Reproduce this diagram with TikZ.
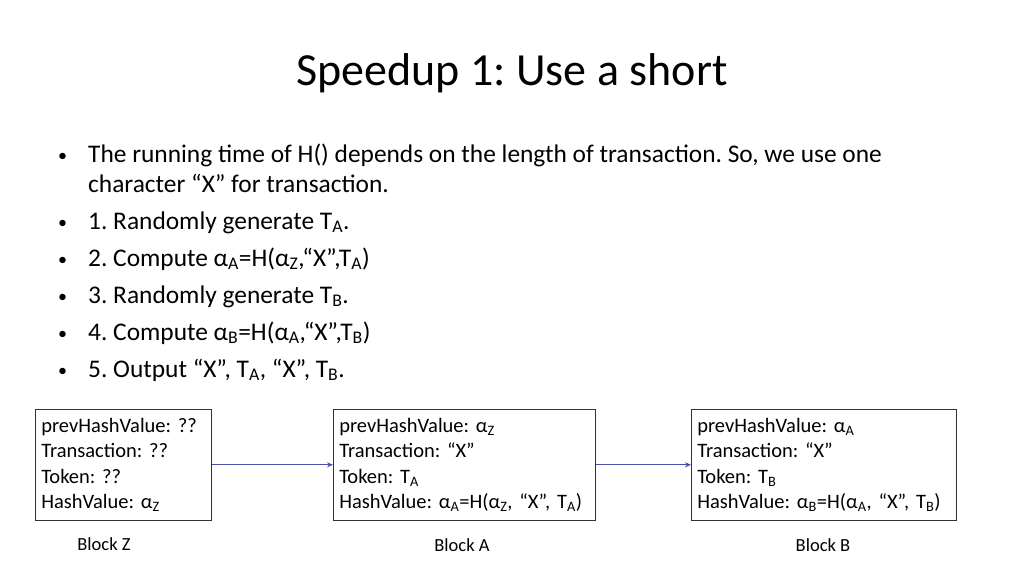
\documentclass[tikz,border=0pt]{standalone}
\usepackage{fontspec}
\setmainfont{Carlito}
\usetikzlibrary{arrows.meta}
\tikzset{
 blk/.style={draw=black!80,line width=0.6pt,anchor=north west,inner xsep=6pt,inner ysep=0pt,align=left,font=\fontsize{20.5}{25.5}\selectfont,minimum height=111pt},
 bul/.style={anchor=base west,font=\fontsize{25.4}{25}\selectfont,inner sep=0pt},
 lbl/.style={font=\fontsize{18.5}{20}\selectfont},
 conn/.style={-{Stealth[length=6pt,width=5pt]},draw=blue!55!black!70!white,line width=0.8pt}
}
\newcommand{\sub}[1]{\textsubscript{#1}}
\begin{document}
\frenchspacing
\begin{tikzpicture}[x=1pt,y=-1pt]
\useasboundingbox (0,0) rectangle (1024,576);
\node[font=\fontsize{46}{52}\selectfont] (title) at (512,73) {Speedup 1: Use a short};
\foreach \y in {162,229,266,303,340,377}{\node[bul,font=\fontsize{18}{20}\selectfont] at (58,\y-1) {•};}
\node[bul] (l1) at (88,162) {The running time of H() depends on the length of transaction. So, we use one};
\node[bul] (l1b) at (88,192) {character “X” for transaction.};
\node[bul] (l2) at (88,229) {1. Randomly generate T\sub{A}.};
\node[bul] (l3) at (88,266) {2. Compute α\sub{A}=H(α\sub{Z},“X”,T\sub{A})};
\node[bul] (l4) at (88,303) {3. Randomly generate T\sub{B}.};
\node[bul] (l5) at (88,340) {4. Compute α\sub{B}=H(α\sub{A},“X”,T\sub{B})};
\node[bul] (l6) at (88,377) {5. Output “X”, T\sub{A}, “X”, T\sub{B}.};
\node[blk,minimum width=176pt,text width=164pt] (bz) at (35,409) {prevHashValue: ??\\Transaction: ??\\Token: ??\\HashValue: α\sub{Z}};
\node[blk,minimum width=262pt,text width=250pt] (ba) at (333,409) {prevHashValue: α\sub{Z}\\Transaction: “X”\\Token: T\sub{A}\\HashValue: α\sub{A}=H(α\sub{Z}, “X”, T\sub{A})};
\node[blk,minimum width=265pt,text width=253pt] (bb) at (691,409) {prevHashValue: α\sub{A}\\Transaction: “X”\\Token: T\sub{B}\\HashValue: α\sub{B}=H(α\sub{A}, “X”, T\sub{B})};
\draw[conn] (bz.east) -- (ba.west);
\draw[conn] (ba.east) -- (bb.west);
\node[lbl] (lz) at (104,544) {Block Z};
\node[lbl] (la) at (462,545) {Block A};
\node[lbl] (lb) at (823,545) {Block B};
\end{tikzpicture}
\end{document}
